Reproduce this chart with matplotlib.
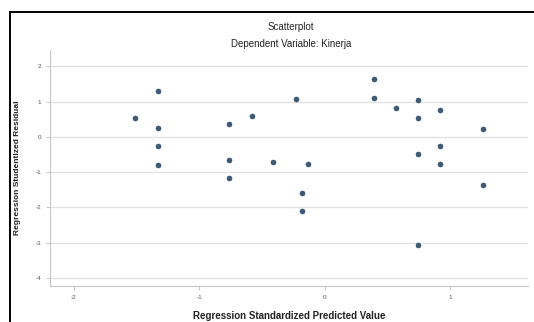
import matplotlib
matplotlib.use('Agg')
import matplotlib.pyplot as plt
from matplotlib.lines import Line2D

plt.rcParams['font.family'] = ['Liberation Sans', 'DejaVu Sans']

# standardized predicted value vs studentized residual
pred = [-1.51, -1.33, -1.33, -1.33, -1.33, -0.76, -0.76, -0.76, -0.58, -0.41,
        -0.23, -0.18, -0.18, -0.13, 0.39, 0.39, 0.57, 0.74, 0.74, 0.74,
        0.74, 0.92, 0.92, 0.92, 1.26, 1.26]
resid = [0.54, 1.30, 0.25, -0.27, -0.79, 0.36, -0.66, -1.18, 0.58, -0.72,
         1.07, -1.60, -2.11, -0.77, 1.63, 1.11, 0.81, 1.03, 0.53, -0.50,
         -3.06, 0.76, -0.26, -0.78, 0.21, -1.37]
x_ticks = [-2, -1, 0, 1]
y_ticks = [2, 1, 0, -1, -2, -3, -4]

fig = plt.figure(figsize=(5.34, 3.22), dpi=100)
ax = fig.add_axes([50 / 534, 36 / 322, 478 / 534, 236 / 322])

ax.scatter(pred, resid, s=13, c='#3d5a78', edgecolors='#2e4560', linewidths=0.4, zorder=3)

ax.set_xlim(-2.19, 1.62)
ax.set_ylim(-4.23, 2.46)
ax.set_xticks(x_ticks)
ax.set_yticks(y_ticks)
ax.set_xticklabels([str(t) for t in x_ticks])
ax.set_yticklabels([str(t) for t in y_ticks])
ax.tick_params(labelsize=4.5, colors='#bbbbbb', labelcolor='#555555', length=3, width=0.6)
ax.grid(axis='y', color='#e2e2e2', linewidth=1.0)
ax.set_axisbelow(True)

for side in ['top', 'right']:
    ax.spines[side].set_visible(False)
for side in ['left', 'bottom']:
    ax.spines[side].set_color('#c8c8c8')
    ax.spines[side].set_linewidth(0.8)

ax.set_xlabel('Regression Standardized Predicted Value', fontsize=7, fontweight='bold', color='#222222', labelpad=8)
ax.set_ylabel('Regression Studentized Residual', fontsize=6, fontweight='bold', color='#222222', labelpad=10)

fig.text(0.545, 1 - 27 / 322, 'Scatterplot', ha='center', va='center', fontsize=7, color='#222222')
fig.text(0.545, 1 - 44 / 322, 'Dependent Variable: Kinerja', ha='center', va='center', fontsize=7, color='#222222')

# black frame on top and left
fig.add_artist(Line2D([10 / 534, 1], [1 - 12 / 322, 1 - 12 / 322], color='black', linewidth=1.4))
fig.add_artist(Line2D([10 / 534, 10 / 534], [0, 1 - 12 / 322], color='black', linewidth=1.4))

fig.savefig('out.png', dpi=100)
